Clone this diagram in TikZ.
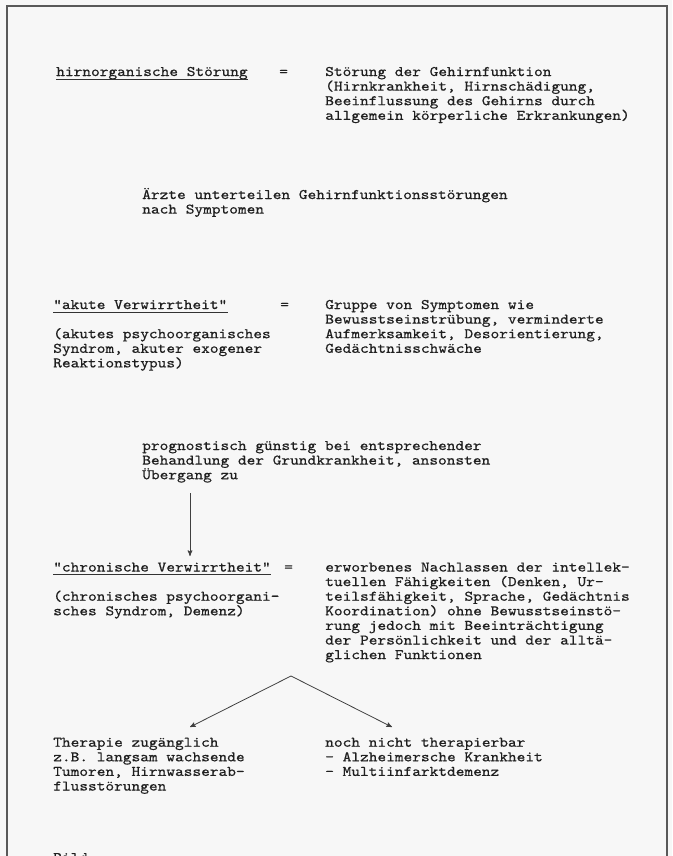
\documentclass[tikz,border=0pt]{standalone}
\usepackage{fontspec}
\usetikzlibrary{positioning, arrows}
\newfontfamily\typewriter[FakeStretch=1.135, FakeBold=0.6]{lmmono10-regular.otf}
\tikzset{
    >=stealth', % spitze Pfeilköpfe
    txt/.style={font=\typewriter\fontsize{10.95}{10.95}\selectfont, text=black!88, inner sep=0pt, anchor=base west, align=left}, % Schreibmaschinentext, Basis = letzte Zeile
    pfeil/.style={->, line width=0.6pt, draw=black!75}, % Pfeile
    strich/.style={line width=0.6pt, draw=black!80}, % Unterstreichung
    rahmen/.style={line width=1pt, draw=black!65} % Kasten um alles
}

\begin{document}
\begin{tikzpicture}[x=0.75pt, y=-0.75pt]
    % Rahmen
    \useasboundingbox (0,0) rectangle (672,856);
    \fill[black!3] (0,0) rectangle (672,856);
    \clip (0,0) rectangle (672,856);
    \draw[rahmen] (7,870) -- (7,6) -- (667,6) -- (667,870);

    % Begriffe (mehrzeilige Knoten sitzen auf ihrer letzten Zeile)
    \node[txt] (HS) at (56,76) {hirnorganische Störung};
    \node[txt] (HSeq) at (279,76) {=};
    \node[txt] (HSdef) at (325,119.8) {Störung der Gehirnfunktion\\(Hirnkrankheit, Hirnschädigung,\\Beeinflussung des Gehirns durch\\allgemein körperliche Erkrankungen)};
    \node[txt] (AE) at (142,213.6) {Ärzte unterteilen Gehirnfunktionsstörungen\\nach Symptomen};
    \node[txt] (AV) at (53,309) {"akute Verwirrtheit"};
    \node[txt] (AVeq) at (280,309) {=};
    \node[txt] (AVdef) at (325,352.8) {Gruppe von Symptomen wie\\Bewusstseinstrübung, verminderte\\Aufmerksamkeit, Desorientierung,\\Gedächtnisschwäche};
    \node[txt] (AVsyn) at (53,367.4) {(akutes psychoorganisches\\Syndrom, akuter exogener\\Reaktionstypus)};
    \node[txt] (PG) at (142,479.2) {prognostisch günstig bei entsprechender\\Behandlung der Grundkrankheit, ansonsten\\Übergang zu};
    \node[txt] (CV) at (53,571.5) {"chronische Verwirrtheit"};
    \node[txt] (CVeq) at (284,571.5) {=};
    \node[txt] (CVdef) at (325,659.1) {erworbenes Nachlassen der intellek-\\tuellen Fähigkeiten (Denken, Ur-\\teilsfähigkeit, Sprache, Gedächtnis\\Koordination) ohne Bewusstseinstö-\\rung jedoch mit Beeinträchtigung\\der Persönlichkeit und der alltä-\\glichen Funktionen};
    \node[txt] (CVsyn) at (53,615.3) {(chronisches psychoorgani-\\sches Syndrom, Demenz)};
    \node[txt] (TZ) at (53,790.5) {Therapie zugänglich\\z.B. langsam wachsende\\Tumoren, Hirnwasserab-\\flusstörungen};
    \node[txt] (NT) at (325,775.9) {noch nicht therapierbar\\- Alzheimersche Krankheit\\- Multiinfarktdemenz};
    \node[txt] (BL) at (53,862) {Bild};

    % Unterstreichungen
    \foreach \n in {HS, AV, CV}
        \draw[strich] ([yshift=-2.5pt]\n.base west) -- ([yshift=-2.5pt]\n.base east);

    % Pfeile
    \coordinate (PGfuss) at (190,493);
    \coordinate (CVkopf) at (190,556);
    \coordinate (spitze) at (291,676);
    \coordinate (TZkopf) at (190,727);
    \coordinate (NTkopf) at (392,727);
    \draw[pfeil] (PGfuss) -- (CVkopf);
    \draw[pfeil] (spitze) -- (TZkopf);
    \draw[pfeil] (spitze) -- (NTkopf);
\end{tikzpicture}
\end{document}
